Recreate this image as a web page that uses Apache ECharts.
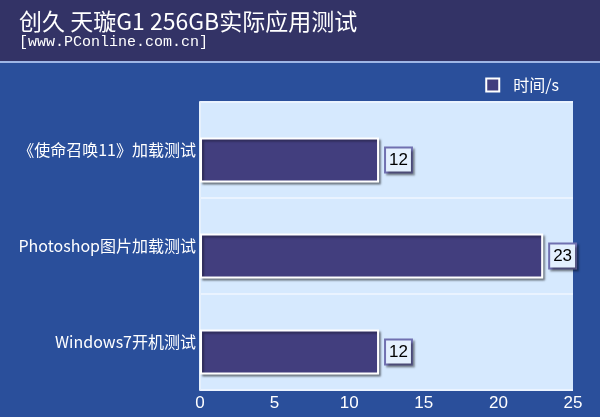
<!DOCTYPE html>
<html><head><meta charset="utf-8">
<script src="https://cdn.jsdelivr.net/npm/echarts@6/dist/echarts.min.js"></script>
<style>html,body{margin:0;padding:0;background:#2a4f9b}#c{width:600px;height:417px}</style>
</head><body><div id="c"></div>
<script>
const categories = ['《使命召唤11》加载测试', 'Photoshop图片加载测试', 'Windows7开机测试'];
const seriesName = '时间/s';
const values = [12, 23, 12];
const xTicks = [0, 5, 10, 15, 20, 25];
const titleText = '创久 天璇G1 256GB实际应用测试';
const subText = '[www.PConline.com.cn]';

const chart = echarts.init(document.getElementById('c'));
const xMin = xTicks[0], xMax = xTicks[xTicks.length - 1], xInt = xTicks[1] - xTicks[0];
const cjk = '"Noto Sans CJK SC"';
chart.setOption({
  backgroundColor: '#2a4f9b',
  animation: false,
  graphic: [
    {type: 'rect', shape: {x: 0, y: 0, width: 600, height: 61}, style: {fill: '#333366'}, z: 0},
    {type: 'rect', shape: {x: 0, y: 61, width: 600, height: 2}, style: {fill: '#9fb6e6'}, z: 0}
  ],
  title: {
    text: titleText, subtext: subText, left: 14, top: 5, itemGap: 1,
    textStyle: {color: '#fff', fontSize: 23, fontWeight: 'normal', fontFamily: cjk},
    subtextStyle: {color: '#fff', fontSize: 15, fontFamily: 'Liberation Mono', lineHeight: 17}
  },
  legend: {
    data: [seriesName], right: 36, top: 72, itemWidth: 13, itemHeight: 13,
    icon: 'rect',
    textStyle: {color: '#fff', fontSize: 16, fontFamily: cjk, padding: [0, 0, 0, 9]}
  },
  grid: [
    {left: 200, right: 27, top: 102, bottom: 27, show: true, backgroundColor: '#d6e9fe', borderWidth: 0},
    {left: 200, right: 27, top: 112, bottom: 17, show: false}
  ],
  xAxis: [
    {gridIndex: 0, type: 'value', min: xMin, max: xMax, interval: xInt,
     axisLine: {show: false}, axisTick: {show: false}, splitLine: {show: false},
     axisLabel: {color: '#fff', fontSize: 17, margin: 5, fontFamily: 'Liberation Sans'}},
    {gridIndex: 1, type: 'value', min: xMin, max: xMax, interval: xInt, show: false}
  ],
  yAxis: [
    {gridIndex: 0, type: 'category', data: categories, inverse: true,
     axisLine: {show: true, lineStyle: {color: '#e6f0fc', width: 2}}, axisTick: {show: false},
     splitLine: {show: true, lineStyle: {color: '#eaf3ff', width: 2}},
     axisLabel: {color: '#fff', fontSize: 16, margin: 4, fontFamily: cjk}},
    {gridIndex: 1, type: 'category', data: categories, inverse: true, show: false}
  ],
  series: [{
    name: seriesName, type: 'bar', data: values, xAxisIndex: 1, yAxisIndex: 1,
    barWidth: 45,
    itemStyle: {color: '#423e7e', borderColor: '#ffffff', borderWidth: 2,
      shadowColor: 'rgba(0,0,0,0.35)', shadowOffsetX: 2, shadowOffsetY: 2, shadowBlur: 2},
    label: {show: true, position: 'right', distance: 7, color: '#000', fontSize: 17,
      fontFamily: 'Liberation Sans',
      backgroundColor: '#e4f0fe', borderColor: '#7070b0', borderWidth: 2, padding: [4, 3, 2, 3],
      shadowColor: 'rgba(0,0,0,0.35)', shadowOffsetX: 2, shadowOffsetY: 2, shadowBlur: 2}
  }]
});
</script></body></html>
